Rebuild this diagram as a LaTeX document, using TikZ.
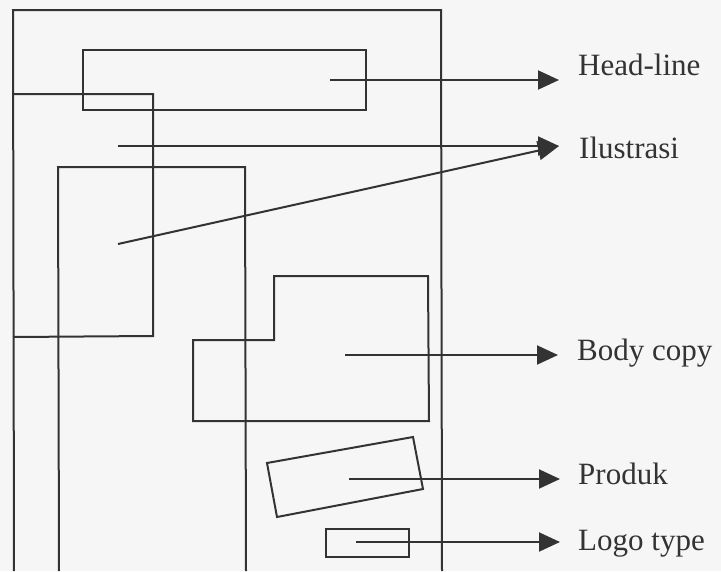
\documentclass[tikz,border=0pt]{standalone}
\usepackage{fontspec}
\setmainfont{Liberation Serif}
\usetikzlibrary{arrows.meta}
\definecolor{ink}{HTML}{333333}
\definecolor{paper}{HTML}{F6F6F6}
\tikzset{
  shapeline/.style={draw=ink, line width=2pt, line join=miter},
  pointer/.style={draw=ink, line width=2pt, -{Triangle[length=21pt,width=19pt]}},
  lbl/.style={anchor=base west, inner sep=0pt, text=ink, font=\fontsize{31}{35}\selectfont}
}
\begin{document}
\begin{tikzpicture}[x=1pt,y=-1pt]
\fill[paper] (0,0) rectangle (721,571);
\useasboundingbox (0,0) rectangle (721,571);
% page frame (open at the bottom)
\draw[shapeline] (14,571) -- (13,10) -- (441,10) -- (442,571);
% illustration block upper-left
\draw[shapeline] (13,94) -- (153,94) -- (153,336) -- (13,337);
% tall column
\draw[shapeline] (59,571) -- (58,167) -- (245,167) -- (246,571);
% head-line box
\draw[shapeline] (83,50) rectangle (366,110);
% body copy polygon
\draw[shapeline] (274,340) -- (274,276) -- (428,276) -- (429,421) -- (193,421) -- (193,340) -- cycle;
% product (tilted)
\draw[shapeline] (267,463) -- (413,437) -- (423,489) -- (277,517) -- cycle;
% logo box
\draw[shapeline] (326,529) rectangle (409,557);

% arrow start points
\coordinate (hs) at (330,80);
\coordinate (is1) at (118,146);
\coordinate (is2) at (118,244);
\coordinate (bs) at (345,355);
\coordinate (ps) at (349,479);
\coordinate (ls) at (356,542);
% arrow tips
\coordinate (ht) at (559,80);
\coordinate (it) at (559,146);
\coordinate (bt) at (558,355);
\coordinate (pt) at (560,479);
\coordinate (lt) at (560,542);
% labels
\node[lbl] (hl) at (578,75) {Head-line};
\node[lbl] (il) at (579,158) {Ilustrasi};
\node[lbl] (bl) at (577,360) {Body copy};
\node[lbl] (pl) at (578,484) {Produk};
\node[lbl] (ll) at (578,550) {Logo type};

\draw[pointer] (hs) -- (ht);
\draw[pointer] (is1) -- (it);
\draw[pointer] (is2) -- (it);
\draw[pointer] (bs) -- (bt);
\draw[pointer] (ps) -- (pt);
\draw[pointer] (ls) -- (lt);
\end{tikzpicture}
\end{document}
